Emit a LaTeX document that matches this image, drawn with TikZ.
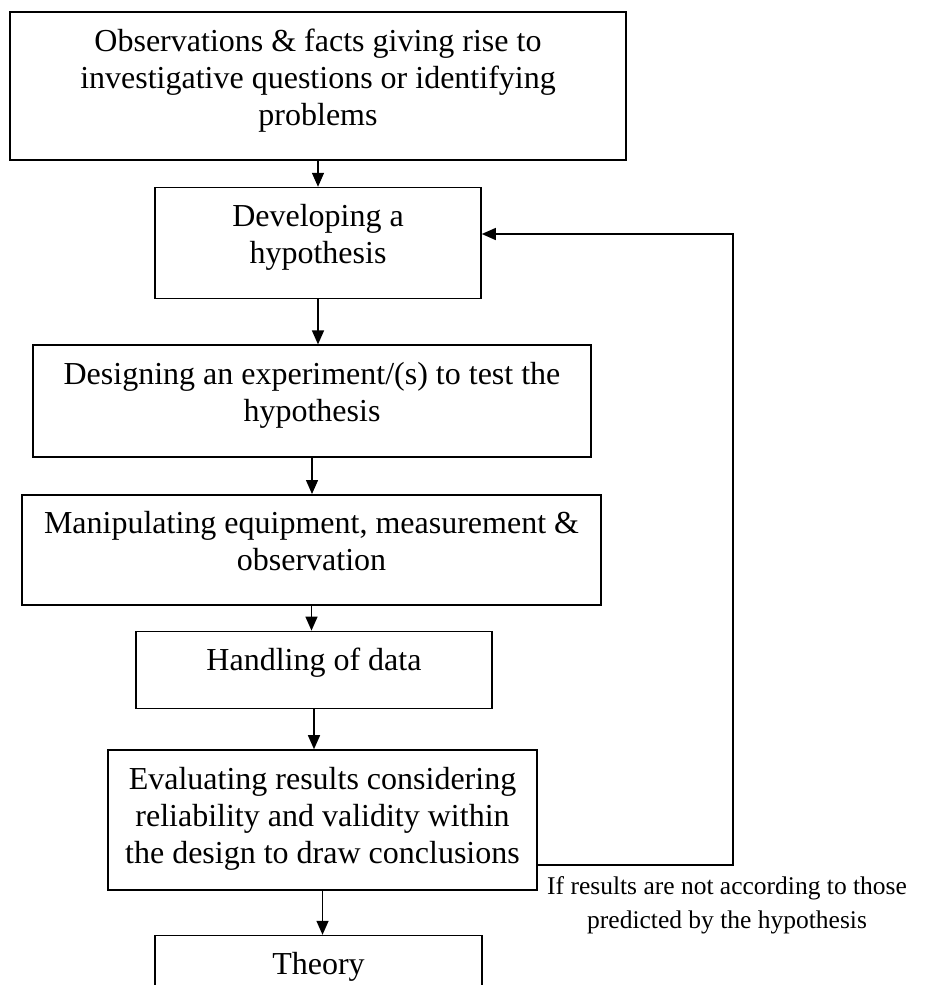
\documentclass[tikz,border=0pt]{standalone}
\usepackage{fontspec}
\setmainfont{Liberation Serif}
\usetikzlibrary{arrows.meta,positioning}

\newcommand{\boxtext}[3]{\parbox[c][#2][t]{#1}{\centering\rule{0pt}{39pt}#3}}

\begin{document}
\begin{tikzpicture}[
    x=1pt, y=-1pt,
    stepbox/.style={rectangle, draw, line width=1.6pt, inner sep=0pt, font=\fontsize{32}{37}\selectfont},
    arrow/.style={-{Triangle[length=14pt, width=12pt]}, line width=1.4pt},
    note/.style={font=\fontsize{25.5}{34}\selectfont, align=center, inner sep=0pt}
]
\path[use as bounding box, clip] (0,0) rectangle (927,985);

% Steps
\node[stepbox] (observe) at (318,86) {\boxtext{616pt}{148pt}{Observations \& facts giving rise to\\investigative questions or identifying\\problems}};
\node[stepbox, below=26pt of observe] (hypo) {\boxtext{326pt}{111pt}{Developing a\\hypothesis}};
\node[stepbox, below=45pt of hypo, xshift=-6pt] (design) {\boxtext{558pt}{112pt}{Designing an experiment/(s) to test the\\hypothesis}};
\node[stepbox, below=36pt of design, xshift=-0.5pt] (manip) {\boxtext{579pt}{110pt}{Manipulating equipment, measurement \&\\observation}};
\node[stepbox, below=25pt of manip, xshift=2.5pt] (handle) {\boxtext{356pt}{77pt}{Handling of data}};
\node[stepbox, below=40pt of handle, xshift=8.5pt] (evaluate) {\boxtext{429pt}{140pt}{Evaluating results considering\\reliability and validity within\\the design to draw conclusions}};
\node[stepbox, below=44pt of evaluate, xshift=-4pt] (theory) {\boxtext{327pt}{111pt}{Theory}};

% Feedback loop
\coordinate (loopbot) at (733,865);
\coordinate (looptop) at (733,234);
\node[note, anchor=north west] (retry) at (547,876) {If results are not according to those\\predicted by the hypothesis};

% Arrows
\draw[arrow] (observe.south) -- (observe.south |- hypo.north);
\draw[arrow] (hypo.south) -- (hypo.south |- design.north);
\draw[arrow] (design.south) -- (design.south |- manip.north);
\draw[arrow] (manip.south) -- (manip.south |- handle.north);
\draw[arrow] (handle.south) -- (handle.south |- evaluate.north);
\draw[arrow] (evaluate.south) -- (evaluate.south |- theory.north);
\draw[arrow] (evaluate.east |- loopbot) -- (loopbot) -- (looptop) -- (hypo.east |- looptop);

\end{tikzpicture}
\end{document}
